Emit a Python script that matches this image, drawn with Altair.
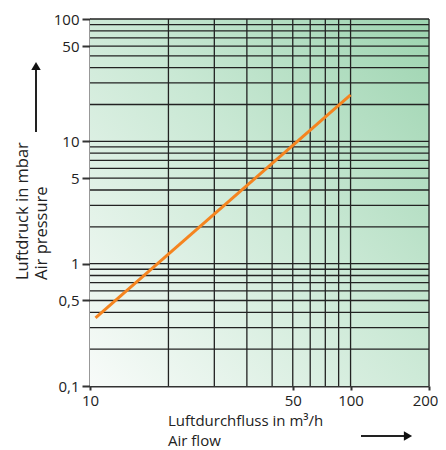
import altair as alt
import pandas as pd

# Data
flow = [10.5, 100]          # m3/h
pressure = [0.36, 24]       # mbar

x_grid = [20, 30, 40, 50, 60, 70, 80, 90, 100]
y_grid = [0.2, 0.3, 0.4, 0.5, 0.6, 0.7, 0.8, 0.9, 1,
          2, 3, 4, 5, 6, 7, 8, 9, 10,
          20, 30, 40, 50, 60, 70, 80, 90, 100]
x_ticks = [10, 60, 100, 200]
x_tick_labels = ["10", "50", "100", "200"]
y_ticks = [0.1, 0.5, 1, 5, 10, 60, 100]
y_tick_labels = ["0,1", "0,5", "1", "5", "10", "50", "100"]
x_domain = [10, 200]
y_domain = [0.1, 100]

def label_expr(vals, labs):
    parts = " : ".join(f"datum.value == {v} ? '{l}'" for v, l in zip(vals, labs))
    return parts + " : ''"

xs = alt.Scale(type="log", domain=x_domain, nice=False)
ys = alt.Scale(type="log", domain=y_domain, nice=False)

W, H = 339, 367

bg_df = pd.DataFrame({"x": [x_domain[0]], "x2": [x_domain[1]],
                      "y": [y_domain[0]], "y2": [y_domain[1]]})
bg = alt.Chart(bg_df).mark_rect(
    color=alt.Gradient(gradient="linear",
                       stops=[alt.GradientStop(color="#f8fbf9", offset=0),
                              alt.GradientStop(color="#c9e8d4", offset=0.55),
                              alt.GradientStop(color="#9dd4b0", offset=1)],
                       x1=0, y1=1, x2=1, y2=0)
).encode(
    x=alt.X("x:Q", scale=xs,
            axis=alt.Axis(values=x_ticks, labelExpr=label_expr(x_ticks, x_tick_labels),
                          title=None, grid=False, domainColor="#333", domainWidth=2,
                          tickColor="#333", tickWidth=2, tickSize=4, labelPadding=3,
                          labelFontSize=15, labelFont="Open Sans", labelColor="#222",
                          labelOffset=alt.expr("datum.value == 200 ? -4 : 0"),
                          labelFlush=False, labelOverlap=False)),
    x2="x2:Q",
    y=alt.Y("y:Q", scale=ys,
            axis=alt.Axis(values=y_ticks, labelExpr=label_expr(y_ticks, y_tick_labels),
                          title=None, grid=False, domainColor="#333", domainWidth=2,
                          tickColor="#333", tickWidth=2, tickSize=8, labelPadding=3,
                          labelFontSize=15, labelFont="Open Sans", labelColor="#222",
                          labelFlush=False, labelOverlap=False)),
    y2="y2:Q",
)

vgrid = alt.Chart(pd.DataFrame({"x": x_grid + [x_domain[1]]})).mark_rule(
    color="#222", strokeWidth=1.3
).encode(x=alt.X("x:Q", scale=xs), y=alt.value(0), y2=alt.value(H))

hgrid = alt.Chart(pd.DataFrame({"y": y_grid})).mark_rule(
    color="#222", strokeWidth=1.3
).encode(y=alt.Y("y:Q", scale=ys), x=alt.value(0), x2=alt.value(W))

line = alt.Chart(pd.DataFrame({"flow": flow, "pressure": pressure})).mark_line(
    color="#f5841f", strokeWidth=3
).encode(x=alt.X("flow:Q", scale=xs), y=alt.Y("pressure:Q", scale=ys))

font = "Open Sans"
fs = 16.5
fsx = 15
ytitle1 = alt.Chart(pd.DataFrame({"t": ["Luftdruck in mbar"]})).mark_text(
    angle=270, align="left", baseline="middle", fontSize=fs, font=font, color="#222"
).encode(text="t:N", x=alt.value(-67), y=alt.value(261))
ytitle2 = alt.Chart(pd.DataFrame({"t": ["Air pressure"]})).mark_text(
    angle=270, align="left", baseline="middle", fontSize=fs, font=font, color="#222"
).encode(text="t:N", x=alt.value(-48), y=alt.value(261))
xtitle1 = alt.Chart(pd.DataFrame({"t": ["Luftdurchfluss in m³/h"]})).mark_text(
    align="left", baseline="middle", fontSize=fsx, font=font, color="#222"
).encode(text="t:N", x=alt.value(78), y=alt.value(402))
xtitle2 = alt.Chart(pd.DataFrame({"t": ["Air flow"]})).mark_text(
    align="left", baseline="middle", fontSize=fsx, font=font, color="#222"
).encode(text="t:N", x=alt.value(78), y=alt.value(422))

up_shaft = alt.Chart(pd.DataFrame({"a": [0]})).mark_rule(color="#222", strokeWidth=2).encode(
    x=alt.value(-54), y=alt.value(113), y2=alt.value(50))
up_head = alt.Chart(pd.DataFrame({"a": [0]})).mark_point(
    shape="triangle-up", filled=True, color="#111", size=90, opacity=1).encode(
    x=alt.value(-54), y=alt.value(47))
rt_shaft = alt.Chart(pd.DataFrame({"a": [0]})).mark_rule(color="#222", strokeWidth=2).encode(
    x=alt.value(271), x2=alt.value(315), y=alt.value(417))
rt_head = alt.Chart(pd.DataFrame({"a": [0]})).mark_point(
    shape="triangle-right", filled=True, color="#111", size=90, opacity=1).encode(
    x=alt.value(318), y=alt.value(417))

chart = alt.layer(bg, vgrid, hgrid, line, ytitle1, ytitle2, xtitle1, xtitle2,
                  up_shaft, up_head, rt_shaft, rt_head).properties(
    width=W, height=H,
    autosize=alt.AutoSizeParams(type="none"),
    padding={"left": 82, "top": 11, "right": 9, "bottom": 64},
).configure_view(stroke=None).configure(background="white")

chart.save("out.html", embed_options={"renderer": "svg", "actions": False})
